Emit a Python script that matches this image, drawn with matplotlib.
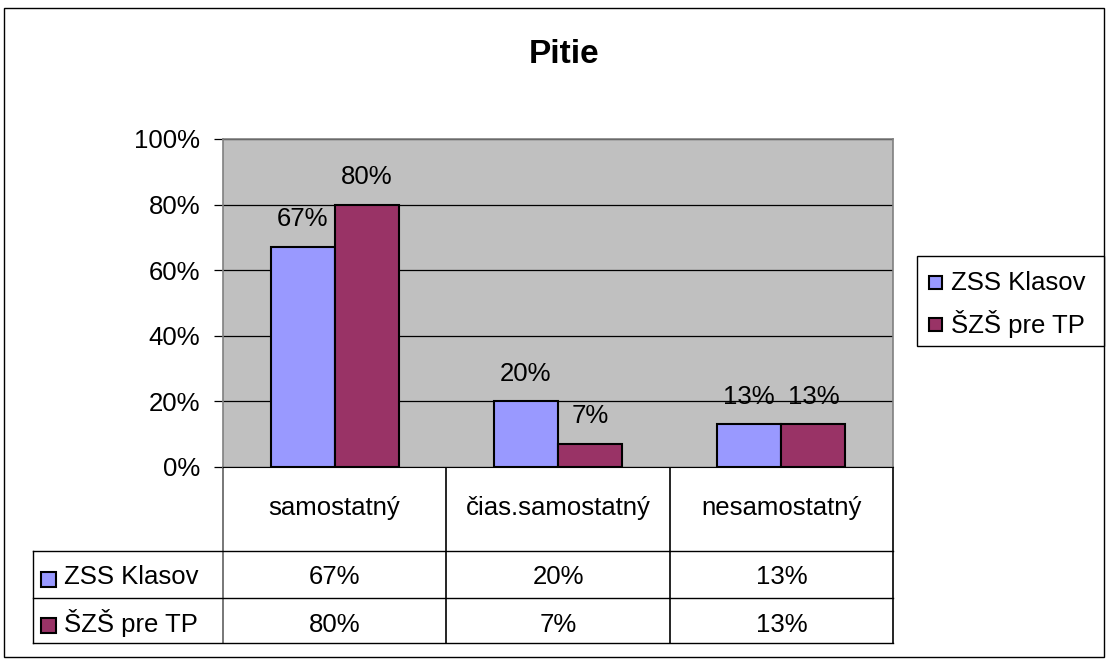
import matplotlib
matplotlib.use("Agg")
import matplotlib.pyplot as plt
from matplotlib.patches import Rectangle

categories = ["samostatný", "čias.samostatný", "nesamostatný"]
series_names = ["ZSS Klasov", "ŠZŠ pre TP"]
zss_klasov = [67, 20, 13]
szs_pre_tp = [80, 7, 13]
yticks = [0, 20, 40, 60, 80, 100]
title = "Pitie"

colors = ["#9999FF", "#993366"]
plt.rcParams['font.family'] = ['Liberation Sans', 'DejaVu Sans']
FS = 18.5

W, H = 1111, 661
fig = plt.figure(figsize=(W / 100, H / 100), dpi=100)

# overlay in pixel coords
ov = fig.add_axes([0, 0, 1, 1], zorder=0)
ov.set_xlim(0, W)
ov.set_ylim(H, 0)
ov.axis("off")

# plot area in pixels
L, R, T, B = 223, 893, 139, 467
ax = fig.add_axes([L / W, (H - B) / H, (R - L) / W, (B - T) / H], zorder=1)
ax.set_facecolor("#C0C0C0")
n = len(categories)
bw = 64 / 223
series = [zss_klasov, szs_pre_tp]
for i, (vals, c, name) in enumerate(zip(series, colors, series_names)):
    xs = [k + (i - 0.5) * bw for k in range(n)]
    ax.bar(xs, vals, width=bw, color=c, edgecolor="black", linewidth=1.5, label=name, zorder=3)
    for x, v in zip(xs, vals):
        ax.annotate(f"{v}%", (x, v), xytext=(0, 15), textcoords="offset points",
                    ha="center", va="baseline", fontsize=FS, zorder=4)
ax.set_xlim(-0.5, n - 0.5)
ax.set_ylim(0, 100)
ax.set_yticks(yticks)
ax.set_yticklabels([f"{t}%" for t in yticks], fontsize=FS)
ax.set_xticks([])
ax.yaxis.grid(True, color="black", linewidth=0.9, zorder=0)
ax.set_axisbelow(True)
ax.tick_params(axis="y", direction="out", length=6.5, width=0.9, pad=10)
for s in ["top", "right", "left"]:
    ax.spines[s].set_color("#808080")
    ax.spines[s].set_linewidth(1.2)
ax.spines["bottom"].set_color("black")
ax.spines["bottom"].set_zorder(5)

# title
ov.text((L + R) / 2 + 6, 63, title, ha="center", va="baseline",
        fontsize=24, fontweight="bold")

# outer border
ov.add_patch(Rectangle((4, 8), 1100, 649, fill=False, edgecolor="black", linewidth=1))

# data table
col_edges = [L + k * (R - L) / n for k in range(n + 1)]
row_y = [B, 551, 598, 643]
TL = 33
lc = "black"
for x in col_edges:
    ov.plot([x, x], [B, row_y[-1]], color="#606060" if x == L else lc, linewidth=1.2)
for y in row_y[1:]:
    ov.plot([TL, R], [y, y], color=lc, linewidth=1)
ov.plot([TL, TL], [row_y[1], row_y[-1]], color=lc, linewidth=1)
for k, cat in enumerate(categories):
    cx = (col_edges[k] + col_edges[k + 1]) / 2
    ov.text(cx, 515, cat, ha="center", va="baseline", fontsize=FS)
row_base = [584, 632]
row_sq = [572, 618]
for r, (vals, c, name) in enumerate(zip(series, colors, series_names)):
    ov.add_patch(Rectangle((41, row_sq[r]), 15, 15, facecolor=c, edgecolor="black", linewidth=1.5))
    ov.text(64, row_base[r], name, ha="left", va="baseline", fontsize=FS)
    for k, v in enumerate(vals):
        cx = (col_edges[k] + col_edges[k + 1]) / 2
        ov.text(cx, row_base[r], f"{v}%", ha="center", va="baseline", fontsize=FS)

# legend
ov.add_patch(Rectangle((917, 256), 187, 90, facecolor="white", edgecolor="black", linewidth=1))
leg_base = [290, 333]
leg_sq = [276, 318]
for r, (c, name) in enumerate(zip(colors, series_names)):
    ov.add_patch(Rectangle((929, leg_sq[r]), 13, 13, facecolor=c, edgecolor="black", linewidth=1.5))
    ov.text(951, leg_base[r], name, ha="left", va="baseline", fontsize=FS)

fig.savefig("out.png", dpi=100)
